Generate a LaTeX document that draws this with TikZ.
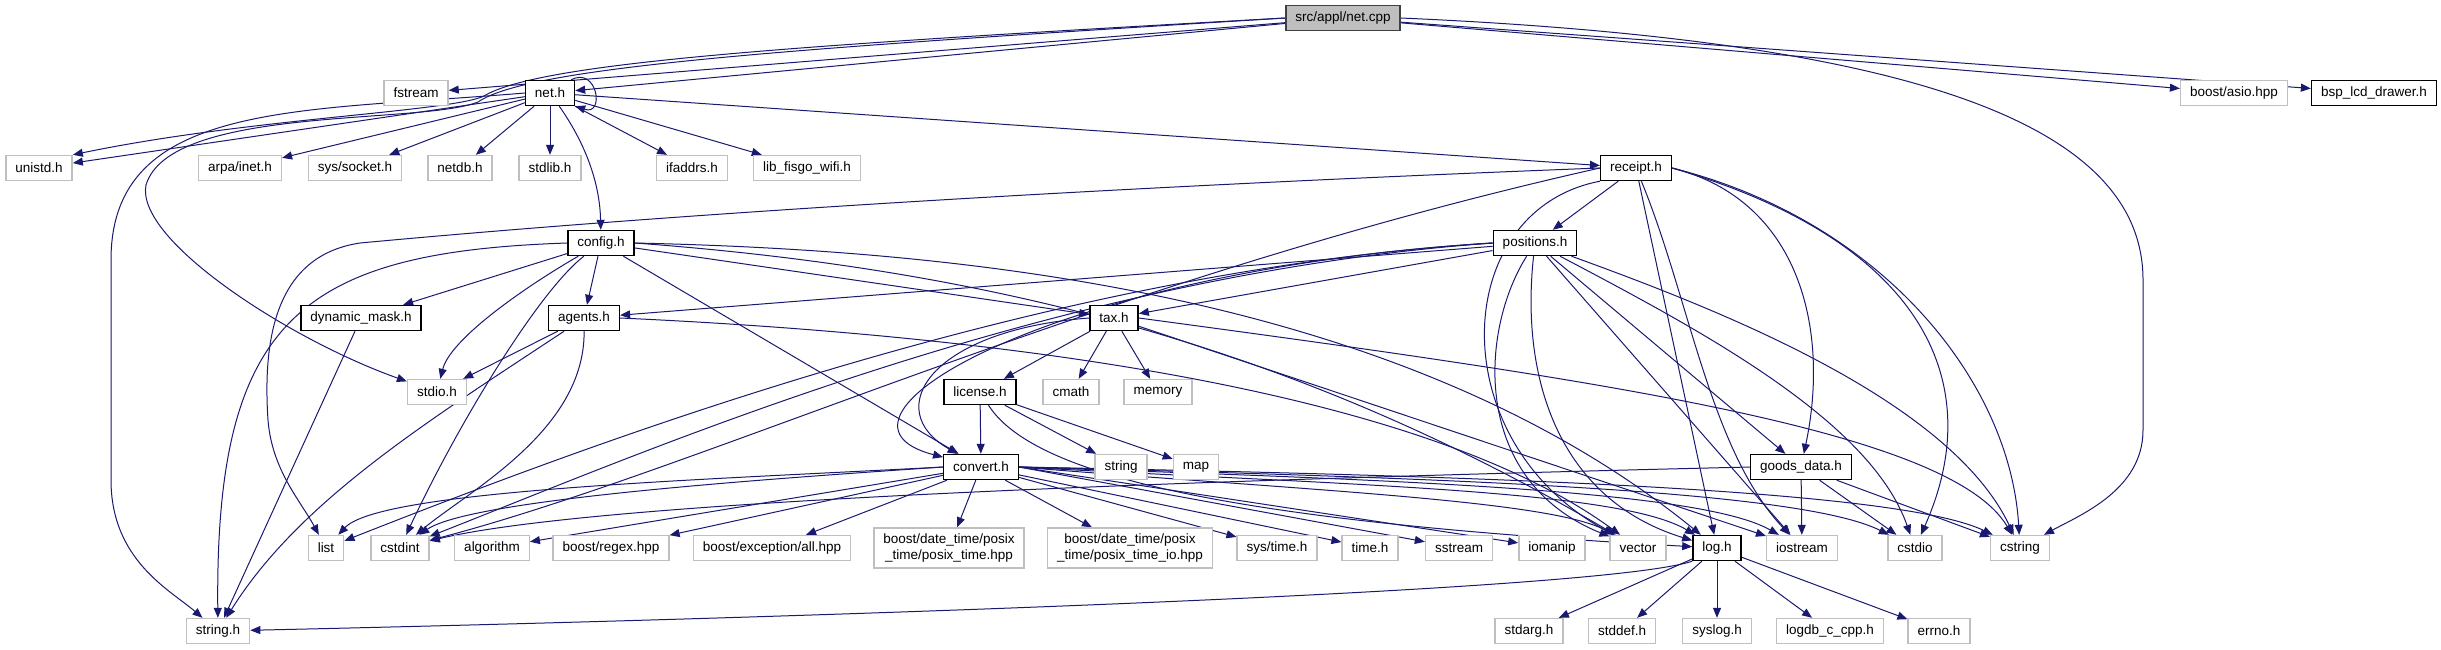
\documentclass[tikz,border=0pt]{standalone}
\usepackage{fontspec}
\setmainfont{Liberation Sans}
\usetikzlibrary{arrows.meta, backgrounds}
\definecolor{edgeblue}{RGB}{25,25,112}
\definecolor{extgray}{RGB}{191,191,191}

\begin{document}
\begin{tikzpicture}[
    x=1pt, y=-1pt,
    font=\fontsize{13.5}{15.5}\selectfont,
    ext/.style={rectangle, draw=extgray, fill=white, line width=1.4pt, inner xsep=9.5pt, inner ysep=0pt, minimum height=25pt, align=center},
    file/.style={ext, draw=black},
    root/.style={file, fill=extgray, draw=black!75},
    arrow/.style={draw=edgeblue, line width=1pt, -{Triangle[length=10pt,width=8pt]}}
]
    \useasboundingbox (0,0) rectangle (2441,649);

    % top file
    \node[root] (cpp) at (1343,18) {src/appl/net.cpp};

    % first level
    \node[ext]  (fstream) at (416,93) {fstream};
    \node[file] (neth) at (550,93) {net.h};
    \node[ext]  (asio) at (2234,93) {boost/asio.hpp};
    \node[file] (bsp) at (2374,93) {bsp\_lcd\_drawer.h};

    \node[ext]  (unistd) at (39,168) {unistd.h};
    \node[ext]  (arpa) at (240,168) {arpa/inet.h};
    \node[ext]  (socket) at (355,168) {sys/socket.h};
    \node[ext]  (netdb) at (460,168) {netdb.h};
    \node[ext]  (stdlibh) at (550,168) {stdlib.h};
    \node[ext]  (ifaddrs) at (692,168) {ifaddrs.h};
    \node[ext]  (wifi) at (807,168) {lib\_fisgo\_wifi.h};
    \node[file] (receipt) at (1636,168) {receipt.h};

    \node[file] (config) at (601,243) {config.h};
    \node[file] (positions) at (1535,243) {positions.h};

    \node[file] (dmask) at (361,318) {dynamic\_mask.h};
    \node[file] (agents) at (584,318) {agents.h};
    \node[file] (tax) at (1114,318) {tax.h};

    \node[ext]  (stdio) at (437,392) {stdio.h};
    \node[file] (license) at (980,392) {license.h};
    \node[ext]  (cmath) at (1071,392) {cmath};
    \node[ext]  (memory) at (1158,392) {memory};

    \node[file] (convert) at (981,467) {convert.h};
    \node[ext]  (stdstring) at (1121,467) {string};
    \node[ext]  (map) at (1196,467) {map};
    \node[file] (goods) at (1801,467) {goods\_data.h};

    % system headers
    \node[ext]  (list) at (326,548) {list};
    \node[ext]  (cstdint) at (400,548) {cstdint};
    \node[ext]  (algorithm) at (492,548) {algorithm};
    \node[ext]  (regex) at (611,548) {boost/regex.hpp};
    \node[ext]  (exception) at (772,548) {boost/exception/all.hpp};
    \node[ext, minimum height=40pt] (ptime) at (949,548) {boost/date\_time/posix\\\_time/posix\_time.hpp};
    \node[ext, minimum height=40pt] (ptimeio) at (1130,548) {boost/date\_time/posix\\\_time/posix\_time\_io.hpp};
    \node[ext]  (systime) at (1277,548) {sys/time.h};
    \node[ext]  (timeh) at (1370,548) {time.h};
    \node[ext]  (sstream) at (1459,548) {sstream};
    \node[ext]  (iomanip) at (1552,548) {iomanip};
    \node[ext]  (vector) at (1638,548) {vector};
    \node[file] (logh) at (1717,548) {log.h};
    \node[ext]  (iostream) at (1802,548) {iostream};
    \node[ext]  (cstdio) at (1915,548) {cstdio};
    \node[ext]  (cstring) at (2020,548) {cstring};

    \node[ext]  (stringh) at (218,631) {string.h};
    \node[ext]  (stdarg) at (1529,631) {stdarg.h};
    \node[ext]  (stddef) at (1622,631) {stddef.h};
    \node[ext]  (syslog) at (1717,631) {syslog.h};
    \node[ext]  (logdb) at (1830,631) {logdb\_c\_cpp.h};
    \node[ext]  (errno) at (1939,631) {errno.h};

    \begin{pgfonlayer}{background}
    % net.cpp
    \draw[arrow] (cpp) -- (fstream);
    \draw[arrow] (cpp) -- (neth);
    \draw[arrow] (cpp) -- (asio);
    \draw[arrow] (cpp) -- (bsp);
    \draw[arrow] (cpp.west) .. controls (800,45) and (540,62) .. (484,96) .. controls (450,112) and (250,118) .. (unistd.north east);
    \draw[arrow] (cpp.west) .. controls (800,48) and (530,66) .. (478,102) .. controls (420,125) and (170,105) .. (146,185) .. controls (135,240) and (290,340) .. (stdio);
    \draw[arrow] (cpp.east) .. controls (1900,40) and (2143,120) .. (2143,280) -- (2143,430) .. controls (2143,490) and (2080,515) .. (cstring);

    % net.h
    \draw[arrow] (neth) -- (unistd);
    \draw[arrow] (neth) -- (arpa);
    \draw[arrow] (neth) -- (socket);
    \draw[arrow] (neth) -- (netdb);
    \draw[arrow] (neth) -- (stdlibh);
    \draw[arrow] (neth) -- (ifaddrs);
    \draw[arrow] (neth) -- (wifi);
    \draw[arrow] (neth) -- (receipt);
    \draw[arrow] (neth) .. controls (590,150) and (600,190) .. (config);
    \draw[arrow] ([xshift=-4pt]neth.north east) .. controls +(26,-14) and +(30,10) .. (neth.south east);
    \draw[arrow] (neth.west) .. controls (300,112) and (111,100) .. (111,260) -- (111,480) .. controls (111,560) and (170,590) .. (stringh);

    % receipt.h
    \draw[arrow] (receipt) -- (positions);
    \draw[arrow] (receipt) -- (logh);
    \draw[arrow] (receipt) .. controls (1690,300) and (1710,450) .. (iostream);
    \draw[arrow] (receipt.east) .. controls (1800,200) and (1830,330) .. (goods);
    \draw[arrow] (receipt.east) .. controls (1920,240) and (1990,380) .. (cstdio);
    \draw[arrow] (receipt.east) .. controls (1880,220) and (2010,380) .. (cstring);
    \draw[arrow] (receipt.south west) .. controls (1450,210) and (1440,440) .. (vector);
    \draw[arrow] (receipt.west) .. controls (1100,280) and (700,470) .. (cstdint);
    \draw[arrow] (receipt.west) .. controls (900,195) and (500,230) .. (360,243) .. controls (280,255) and (262,330) .. (268,420) .. controls (272,470) and (300,500) .. (list);

    % config.h
    \draw[arrow] (config) -- (dmask);
    \draw[arrow] (config) -- (agents);
    \draw[arrow] (config) .. controls (520,290) and (450,340) .. (stdio);
    \draw[arrow] (config) .. controls (540,290) and (460,420) .. (cstdint);
    \draw[arrow] (config.west) .. controls (300,252) and (215,320) .. (stringh);
    \draw[arrow] (config) -- (tax);
    \draw[arrow] (config) -- (convert);
    \draw[arrow] (config.east) .. controls (950,250) and (1400,290) .. (logh);
    \draw[arrow] (config.east) .. controls (1000,270) and (1300,350) .. (vector);

    % agents.h, dynamic_mask.h
    \draw[arrow] (agents) -- (stdio);
    \draw[arrow] (agents) .. controls (430,420) and (300,500) .. (stringh);
    \draw[arrow] (agents) .. controls (585,430) and (470,490) .. (cstdint);
    \draw[arrow] (agents.east) .. controls (1100,340) and (1450,410) .. (vector);
    \draw[arrow] (dmask) -- (stringh);

    % positions.h
    \draw[arrow] (positions) -- (agents);
    \draw[arrow] (positions) -- (tax);
    \draw[arrow] (positions.west) .. controls (1050,270) and (800,420) .. (convert);
    \draw[arrow] (positions.west) .. controls (1050,270) and (600,440) .. (list);
    \draw[arrow] (positions.west) .. controls (1050,275) and (650,450) .. (cstdint);
    \draw[arrow] (positions) -- (goods);
    \draw[arrow] (positions) .. controls (1520,380) and (1560,500) .. (logh);
    \draw[arrow] (positions) -- (iostream);
    \draw[arrow] (positions) .. controls (1480,330) and (1470,480) .. (vector);
    \draw[arrow] (positions) .. controls (1700,330) and (1870,420) .. (cstdio);
    \draw[arrow] (positions) .. controls (1720,310) and (1950,400) .. (cstring);

    % tax.h, license.h
    \draw[arrow] (tax) -- (license);
    \draw[arrow] (tax) -- (cmath);
    \draw[arrow] (tax) -- (memory);
    \draw[arrow] (tax.west) .. controls (930,330) and (880,410) .. (convert);
    \draw[arrow] (tax.east) .. controls (1600,380) and (1950,430) .. (cstring);
    \draw[arrow] (tax) -- (iostream);
    \draw[arrow] (license) -- (convert);
    \draw[arrow] (license) -- (stdstring);
    \draw[arrow] (license) -- (map);
    \draw[arrow] (license) .. controls (1030,470) and (1200,520) .. (logh);

    % goods_data.h
    \draw[arrow] (goods.west) .. controls (1200,480) and (600,500) .. (cstdint);
    \draw[arrow] (goods) -- (iostream);
    \draw[arrow] (goods) -- (cstdio);
    \draw[arrow] (goods) -- (cstring);

    % convert.h
    \draw[arrow] (convert.west) .. controls (700,480) and (380,490) .. (list);
    \draw[arrow] (convert.west) .. controls (750,480) and (470,500) .. (cstdint);
    \draw[arrow] (convert) -- (algorithm);
    \draw[arrow] (convert) -- (regex);
    \draw[arrow] (convert) -- (exception);
    \draw[arrow] (convert) -- (ptime);
    \draw[arrow] (convert) -- (ptimeio);
    \draw[arrow] (convert) -- (systime);
    \draw[arrow] (convert) -- (timeh);
    \draw[arrow] (convert.east) -- (sstream);
    \draw[arrow] (convert.east) -- (iomanip);
    \draw[arrow] (convert.east) .. controls (1300,490) and (1550,500) .. (vector);
    \draw[arrow] (convert.east) .. controls (1350,485) and (1620,490) .. (logh);
    \draw[arrow] (convert.east) .. controls (1400,480) and (1700,490) .. (iostream);
    \draw[arrow] (convert.east) .. controls (1450,478) and (1800,490) .. (cstdio);
    \draw[arrow] (convert.east) .. controls (1500,476) and (1900,490) .. (cstring);

    % log.h
    \draw[arrow] (logh.south west) .. controls (1600,592) and (800,618) .. (stringh);
    \draw[arrow] (logh) -- (stdarg);
    \draw[arrow] (logh) -- (stddef);
    \draw[arrow] (logh) -- (syslog);
    \draw[arrow] (logh) -- (logdb);
    \draw[arrow] (logh) -- (errno);
    \end{pgfonlayer}
\end{tikzpicture}
\end{document}
